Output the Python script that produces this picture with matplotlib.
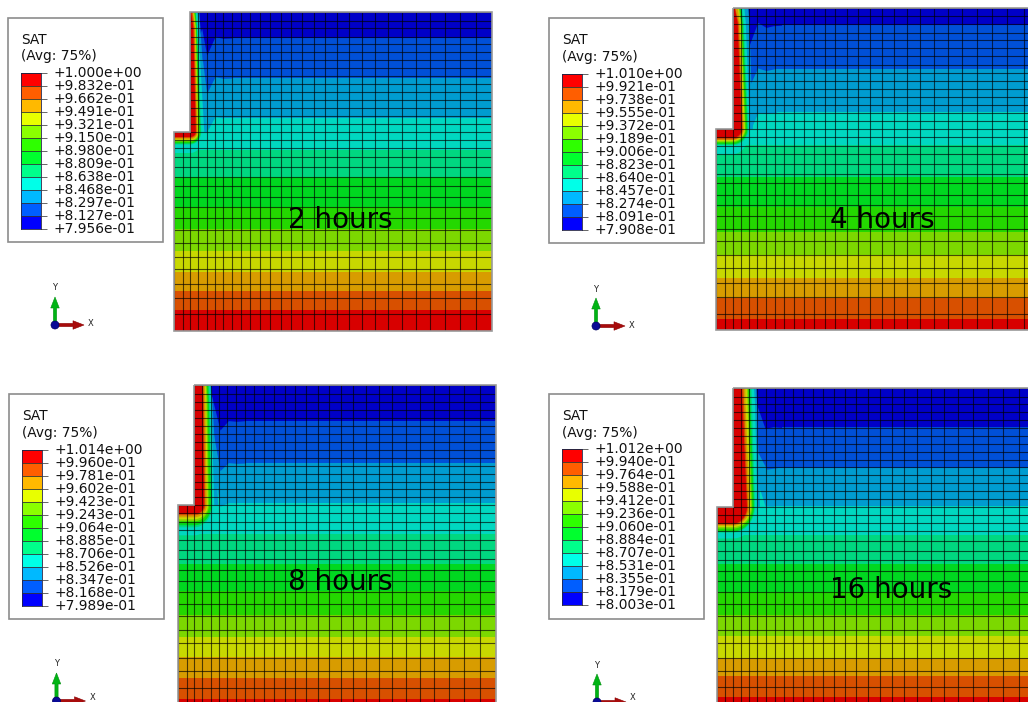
import numpy as np
import matplotlib
matplotlib.use("Agg")
import matplotlib.pyplot as plt
from matplotlib.patches import Polygon, Rectangle, Circle
from matplotlib.collections import LineCollection
from matplotlib.transforms import ScaledTranslation

W, H = 1028, 702

# ---------- data ----------
time_labels = ["2 hours", "4 hours", "8 hours", "16 hours"]

levels_2h = [1.000, .9832, .9662, .9491, .9321, .9150, .8980, .8809, .8638, .8468, .8297, .8127, .7956]
levels_4h = [1.010, .9921, .9738, .9555, .9372, .9189, .9006, .8823, .8640, .8457, .8274, .8091, .7908]
levels_8h = [1.014, .9960, .9781, .9602, .9423, .9243, .9064, .8885, .8706, .8526, .8347, .8168, .7989]
levels_16h = [1.012, .9940, .9764, .9588, .9412, .9236, .9060, .8884, .8707, .8531, .8355, .8179, .8003]

# mesh lines (model coordinates)
mesh_x = [0, 8.7, 16.3, 24.3, 32.7, 40.7, 49.3, 58.3, 67.3, 76.3, 86, 96.3, 106.7, 117.3, 128.3, 139.7, 151.3,
          163.3, 175.3, 187.7, 200.7, 214.3, 227.7, 241.7, 256.3, 271.3, 286.3, 302.3, 318.3]
mesh_y = [0, 8.7, 16.3, 24.7, 32.3, 40.3, 48.3, 56.3, 64.3, 72.3, 80.3, 88.3, 96.3, 104, 112, 120, 128, 136.3,
          144.7, 154.7, 164.7, 173.7, 184.7, 195.3, 206.3, 218.3, 230.7, 244.7, 257.3, 272.3, 285.7, 302.3, 319]
wall_x = 16.3
notch_y = 120.0
model_w, model_h = 318.3, 319.0

# depth of each contour boundary, top to bottom
edges_2h = [26, 66, 106, 138, 165, 195, 217, 239, 260, 279, 298]
edges_4h = [17.5, 60.5, 103.5, 136, 167.4, 197, 221.7, 244.4, 267.2, 286.9, 307.6]
edges_8h = [35.4, 77.7, 117.4, 148.4, 178.4, 205.7, 229.4, 251.7, 271.7, 292.4, 313.4]
edges_16h = [39.7, 80.5, 119.2, 148.2, 177.5, 206, 229, 250.8, 272.4, 291, 312]

# near-wall kinks of the three upper contour boundaries
kink_x_2h = [[24.3, 27.7, 32.7, 41, 49.3], [25.3, 28.7, 32.7, 41, 49.3], [28.7, 33.7, 41, 49.3]]
kink_y_2h = [[26.3, 16.3, 43, 24.7, 26.3], [40, 50, 81.3, 64.7, 66.3], [80, 118, 104.7, 106]]
kink_x_4h = [[31.7, 41, 49.3, 56], [31.7, 41, 49.3], [34.3, 41, 51]]
kink_y_4h = [[39.7, 14.7, 19.7, 18], [79.7, 59.7, 62.3], [119.7, 104, 104.7]]
kink_x_8h = [[33.7, 42, 50.3, 58.7], [35.3, 42, 50.3, 58.7], [37, 42, 50.3]]
kink_y_8h = [[11, 44.7, 35.3, 36], [48, 85.3, 77.3, 78], [91, 121, 117.3]]
kink_x_16h = [[38.3, 48.3, 56.7], [41.7, 50, 60], [43.3, 48.3]]
kink_y_16h = [[12, 40.7, 39], [66, 82, 80.5], [103, 119]]

# wet-wall contour offsets, wettest first: at the top, at depth 15, at the notch, below the notch
wall_top_2h = [0.8, 2.2, 3.0, 3.6, 4.2, 4.7, 5.2, 5.7, 7, 9]
wall_mid_2h = [3, 4, 4.6, 5.1, 5.6, 6, 6.4, 6.8, 8, 10]
wall_low_2h = [5.5, 6.3, 7.2, 8, 8.8, 9.5, 10.2, 11, 14, 17]
wall_under_2h = [5, 6, 7.3, 8.5, 9.5, 10.5, 11.5, 12.5, 21, 0]
wall_top_4h = [2, 2.5, 5, 6, 6.7, 7.5, 8, 9, 11.5, 15.5]
wall_mid_4h = [5, 6, 7, 8, 8.7, 9.5, 10, 11, 13, 16.5]
wall_low_4h = [9, 10, 11, 12, 12.7, 13.5, 14.5, 15.5, 17, 20]
wall_under_4h = [8.7, 10.3, 11, 12, 13, 14, 15, 16, 25, 0]
wall_top_8h = [8.3, 9.3, 10.5, 11.5, 12.5, 13.2, 14, 15, 16, 17]
wall_mid_8h = [8.7, 9.7, 11, 12, 13, 13.7, 14.5, 15.5, 17, 18]
wall_low_8h = [10, 11, 12.5, 13.5, 14.5, 16, 17, 18, 20, 24]
wall_under_8h = [8.7, 10, 12, 14, 16, 18, 20, 22, 30, 0]
wall_top_16h = [9, 10.5, 12.3, 14, 15, 16, 17, 18.5, 21, 23.5]
wall_mid_16h = [9.5, 11, 12.5, 14.5, 15.5, 16.5, 17.5, 19, 22, 24]
wall_low_16h = [14, 15, 16.7, 18, 19, 20, 21, 22, 24.5, 27]
wall_under_16h = [17, 18, 19, 20.5, 22, 24, 25, 26, 32, 0]

# ---------- styles ----------
shaded = ["#0000c8", "#0050d8", "#009cd0", "#00d8c0", "#00d880", "#00d820",
          "#24d800", "#7cd800", "#c8d800", "#d89c00", "#d85000", "#d80000"]
bright = ["#ff0000", "#ff5e00", "#ffb900", "#e8ff00", "#8bff00", "#2eff00",
          "#00ff2e", "#00ff8b", "#00ffe8", "#00b9ff", "#005eff", "#0000ff"]

# ---------- layout (pixels of the reference) ----------
panel_boxes = [(174, 12, 1.0, 1.0), (716, 7.5, 1.0175, 1.0125), (178, 385.3, 1.0, 1.0), (716.7, 388, 1.0, 0.99)]
legend_boxes = [(7.5, 17.5, 155, 224.5), (548.7, 18.3, 155, 225), (8.7, 394, 155.3, 224.7), (549, 394, 155, 225)]
bar_boxes = [(21, 73, 20, 156), (561.7, 74, 20, 156.3), (22, 449.7, 19.7, 156), (562, 449, 20, 156)]
triads = [(55, 325), (596, 326), (56.5, 701), (597, 702)]
label_pos = [(340, 220), (882, 220), (340, 582), (891, 590)]

fig = plt.figure(figsize=(W / 100, H / 100), dpi=100, facecolor="white")
plt.rcParams["font.family"] = "DejaVu Sans"


def px_axes(x, y, w, h, **kw):
    return fig.add_axes([x / W, 1 - (y + h) / H, w / W, h / H], **kw)


def draw_panel(box, edges, kx, ky, w_top, w_mid, w_low, w_under):
    x0, y0, sx, sy = box
    ax = px_axes(x0, y0, model_w * sx, model_h * sy)
    ax.set_xlim(0, model_w)
    ax.set_ylim(model_h, 0)
    ax.axis("off")
    outline = [(wall_x, 0), (model_w, 0), (model_w, model_h), (0, model_h), (0, notch_y), (wall_x, notch_y)]
    clip = Polygon(outline, closed=True, transform=ax.transData)

    base = ax.add_patch(Rectangle((0, 0), model_w, model_h, fc=shaded[0], ec="none", zorder=1))
    base.set_clip_path(clip)
    for k, edge in enumerate(edges):
        if k < 3:
            xs = [0] + kx[k] + [kx[k][-1] + 8, model_w]
            ys = [ky[k][0]] + ky[k] + [edge, edge]
        else:
            xs, ys = [0, model_w], [edge, edge]
        p = ax.fill_between(xs, ys, model_h, color=shaded[k + 1], lw=0, zorder=1 + k * 0.01)
        p.set_clip_path(clip)

    # layers along the wetted wall, widest first
    t = np.radians(np.arange(0, 91, 6))
    for i in range(len(w_top) - 1, -1, -1):
        col = shaded[::-1][i]
        stations = [0, 15, notch_y]
        offs = [w_top[i], w_mid[i], w_low[i]]
        px = [wall_x + o for o in offs]
        py = list(stations)
        px += list(wall_x + w_low[i] * np.cos(t))
        py += list(notch_y + w_under[i] * np.sin(t))
        px += [0, 0, wall_x, wall_x]
        py += [notch_y + w_under[i], notch_y, notch_y, 0]
        layer = Polygon(np.column_stack([px, py]), closed=True, fc=col, ec="none", zorder=2)
        ax.add_patch(layer)
        layer.set_clip_path(clip)

    # mesh
    segs = []
    for xv in mesh_x:
        top = 0 if xv >= wall_x - 0.5 else notch_y
        segs.append([(xv, top), (xv, model_h)])
    for yv in mesh_y:
        left = wall_x if yv < notch_y else 0
        segs.append([(left, yv), (model_w, yv)])
    ax.add_collection(LineCollection(segs, colors="black", linewidths=0.8, alpha=0.65, zorder=3))
    ax.add_patch(Polygon(outline, closed=True, fc="none", ec="#9a9a9a", lw=1.2, zorder=4, clip_on=False))
    return ax


panels = [
    (edges_2h, kink_x_2h, kink_y_2h, wall_top_2h, wall_mid_2h, wall_low_2h, wall_under_2h),
    (edges_4h, kink_x_4h, kink_y_4h, wall_top_4h, wall_mid_4h, wall_low_4h, wall_under_4h),
    (edges_8h, kink_x_8h, kink_y_8h, wall_top_8h, wall_mid_8h, wall_low_8h, wall_under_8h),
    (edges_16h, kink_x_16h, kink_y_16h, wall_top_16h, wall_mid_16h, wall_low_16h, wall_under_16h),
]
for box, spec in zip(panel_boxes, panels):
    draw_panel(box, *spec)

# overlay for legend frames, triads and captions
ov = fig.add_axes([0, 0, 1, 1], zorder=5)
ov.set_xlim(0, W)
ov.set_ylim(H, 0)
ov.axis("off")
ov.patch.set_alpha(0)

for (lx, ly, lw, lh) in legend_boxes:
    ov.add_patch(Rectangle((lx, ly), lw, lh, fc="white", ec="#8c8c8c", lw=1.2))
    ov.text(lx + 13.5, ly + 22, "SAT", fontsize=9.9, va="center", ha="left", color="#111111")
    ov.text(lx + 13.5, ly + 38.5, "(Avg: 75%)", fontsize=9.9, va="center", ha="left", color="#111111")

for (tx, ty) in triads:
    ov.arrow(tx, ty, 0, -28, width=3.2, head_width=8.5, head_length=11, length_includes_head=True,
             fc="#00b414", ec="#009010", lw=0.4, zorder=6)
    ov.arrow(tx, ty, 29, 0, width=3.2, head_width=8.5, head_length=11, length_includes_head=True,
             fc="#a80c0c", ec="#8a0000", lw=0.4, zorder=6)
    ov.add_patch(Circle((tx, ty), 4.0, fc="#0a0a96", ec="#000060", lw=0.5, zorder=7))
    ov.text(tx, ty - 37, "Y", fontsize=6, ha="center", va="center", color="#222222")
    ov.text(tx + 36, min(ty - 1, 697), "X", fontsize=6, ha="center", va="center", color="#222222")

for (cx, cy), lab in zip(label_pos, time_labels):
    ov.text(cx, cy, lab, fontsize=20, ha="center", va="center", color="black", zorder=8)

# colour legends
up = ScaledTranslation(0, 1.4 / 100, fig.dpi_scale_trans)
for bar, levels in zip(bar_boxes, [levels_2h, levels_4h, levels_8h, levels_16h]):
    cb = px_axes(*bar, zorder=6)
    cb.set_xlim(0, 1)
    cb.set_ylim(levels[-1], levels[0])
    for i in range(12):
        cb.fill_between([0, 1], levels[i + 1], levels[i], color=bright[i], lw=0)
    cb.hlines(levels, 0, 1, colors="#333333", lw=0.6)
    cb.set_xticks([])
    cb.yaxis.tick_right()
    cb.set_yticks(levels, [f"{v:+.3e}" for v in levels], fontsize=9.9, color="#111111")
    cb.tick_params(axis="y", length=4.3, width=0.7, color="#666666", pad=4.8)
    for lbl in cb.get_yticklabels():
        lbl.set_transform(lbl.get_transform() + up)
    for s in cb.spines.values():
        s.set_linewidth(0.6)
        s.set_color("#222244")

fig.savefig("out.png", dpi=100)
